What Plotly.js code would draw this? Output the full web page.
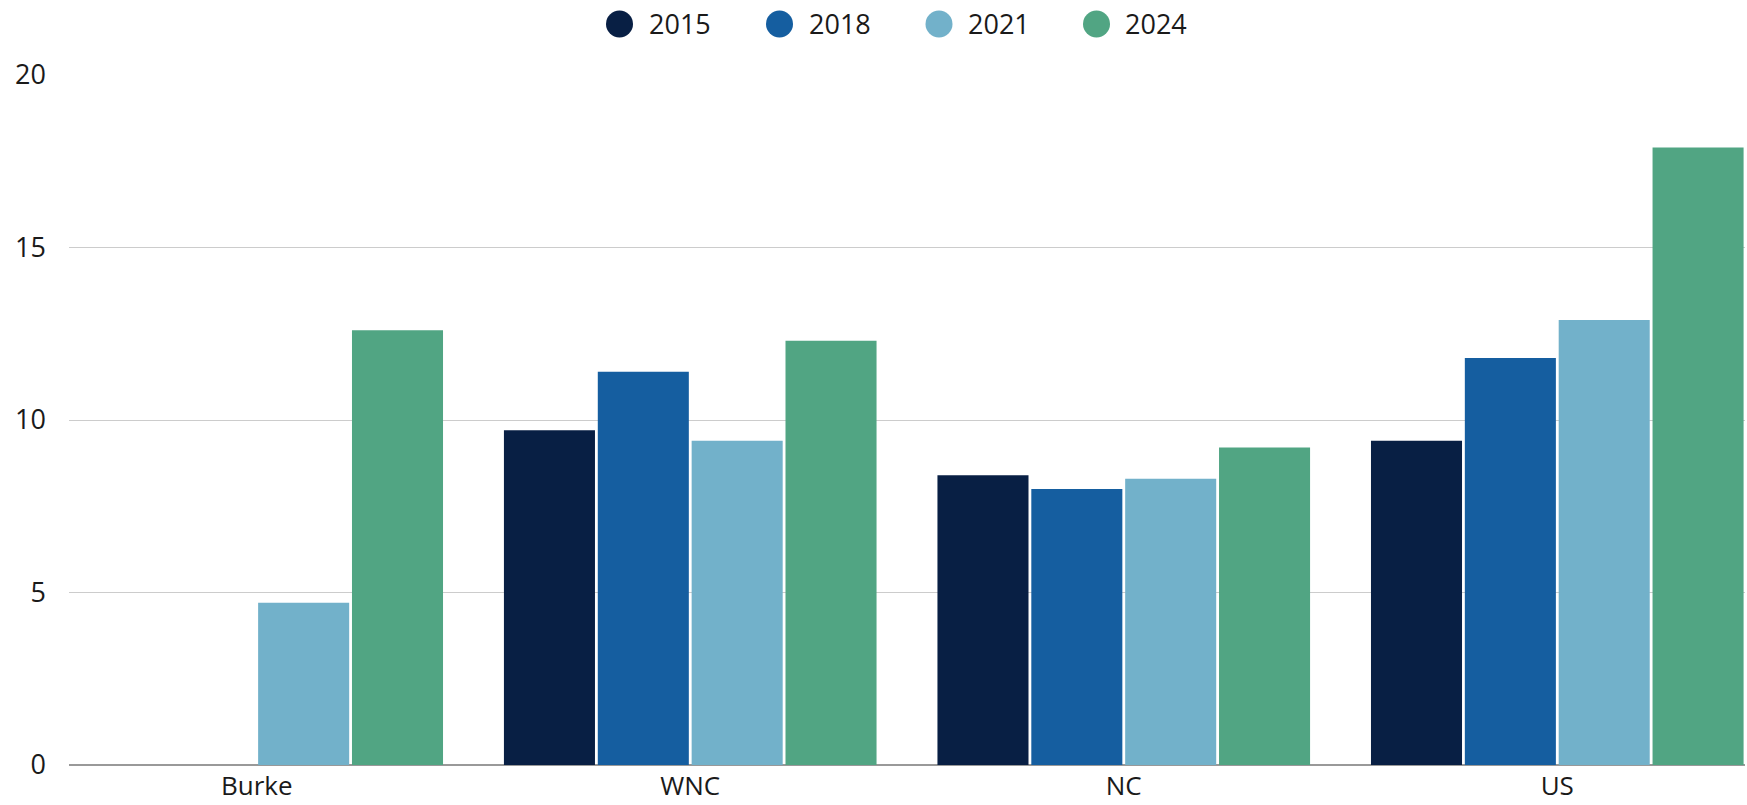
<!DOCTYPE html>
<html>
<head>
<meta charset="utf-8">
<script src="https://cdn.plot.ly/plotly-3.0.1.min.js"></script>
<style>html,body{margin:0;padding:0;background:#fff;}#chart{width:1747px;height:805px;}</style>
</head>
<body>
<div id="chart"></div>
<script>
const categories = ["Burke", "WNC", "NC", "US"];
const seriesNames = ["2015", "2018", "2021", "2024"];
const v2015 = [null, 9.7, 8.4, 9.4];
const v2018 = [null, 11.4, 8.0, 11.8];
const v2021 = [4.7, 9.4, 8.3, 12.9];
const v2024 = [12.6, 12.3, 9.2, 17.9];
const colors = ["#081F44", "#155EA0", "#72B1CA", "#51A583"];
const yTicks = [0, 5, 10, 15, 20];

const allValues = [v2015, v2018, v2021, v2024];
const FONT = "'Open Sans', 'Noto Sans', sans-serif";
const TEXT_COLOR = "#1a1a1a";

const W = 1747, H = 805;
const M = {l: 69, r: 2, t: 75, b: 40};
const PW = W - M.l - M.r, PH = H - M.t - M.b;
const px2x = p => (p - M.l) / PW;
const py2y = p => (H - M.b - p) / PH;

const traces = allValues.map((vals, i) => ({
  type: "bar",
  name: seriesNames[i],
  x: categories,
  y: vals,
  marker: {color: colors[i]},
  showlegend: false,
  hoverinfo: "x+y+name"
}));

// Custom legend (circle swatches + labels) positioned in pixels
const legendCircleX = [619.5, 779.5, 939, 1096.5];
const legendTextX = [649, 809, 968, 1125];
const legendCY = 24;
const R = 13.5;
const shapes = seriesNames.map((n, i) => ({
  type: "circle",
  xref: "paper", yref: "paper",
  x0: px2x(legendCircleX[i] - R), x1: px2x(legendCircleX[i] + R),
  y0: py2y(legendCY + R), y1: py2y(legendCY - R),
  fillcolor: colors[i],
  line: {width: 0}
}));
const annotations = seriesNames.map((n, i) => ({
  text: n,
  xref: "paper", yref: "paper",
  x: px2x(legendTextX[i] - 2), y: py2y(legendCY - 1),
  xanchor: "left", yanchor: "middle",
  showarrow: false,
  font: {family: FONT, size: 27, color: TEXT_COLOR}
}));

const layout = {
  width: W,
  height: H,
  margin: {l: M.l, r: M.r, t: M.t, b: M.b, pad: 0},
  paper_bgcolor: "#ffffff",
  plot_bgcolor: "#ffffff",
  font: {family: FONT, size: 26, color: TEXT_COLOR},
  barmode: "group",
  bargap: 0.134,
  bargroupgap: 0.03,
  showlegend: false,
  shapes: shapes,
  annotations: annotations,
  xaxis: {
    type: "category",
    categoryorder: "array",
    categoryarray: categories,
    range: [-0.433, 3.433],
    showgrid: false,
    showline: false,
    zeroline: false,
    ticks: "",
    tickfont: {family: FONT, size: 26, color: TEXT_COLOR},
    ticklabelstandoff: 3,
    fixedrange: true
  },
  yaxis: {
    range: [0, 20],
    tickvals: yTicks,
    ticktext: yTicks.map(String),
    showgrid: true,
    gridcolor: "#cccccc",
    gridwidth: 1,
    zeroline: true,
    zerolinecolor: "#999999",
    zerolinewidth: 1.5,
    showline: false,
    ticks: "",
    tickfont: {family: FONT, size: 27, color: TEXT_COLOR},
    ticklabelstandoff: 22,
    fixedrange: true
  }
};

Plotly.newPlot("chart", traces, layout, {displayModeBar: false, staticPlot: true});
</script>
</body>
</html>
